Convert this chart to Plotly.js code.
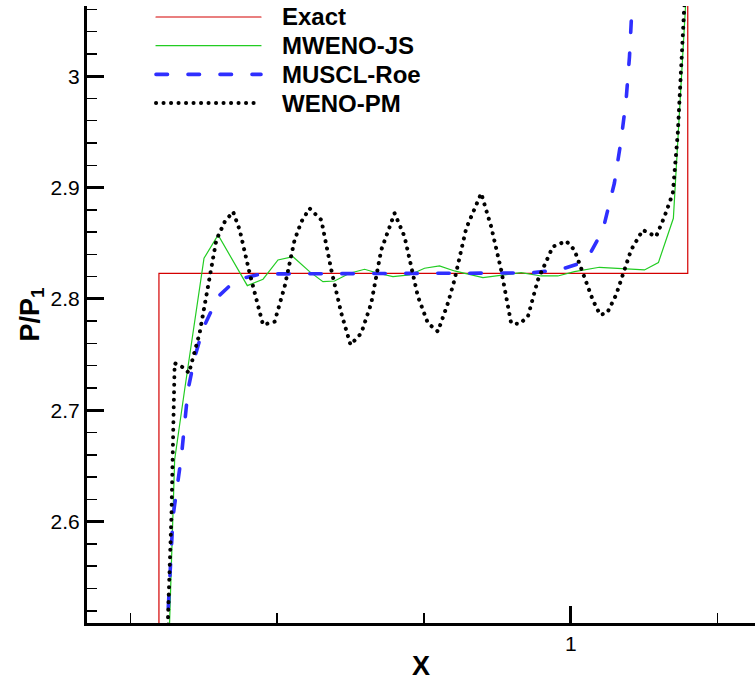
<!DOCTYPE html>
<html>
<head>
<meta charset="utf-8">
<script src="https://cdn.plot.ly/plotly-3.0.1.min.js"></script>
<style>
html,body{margin:0;padding:0;background:#fff;}
#chart{width:755px;height:681px;}
.scatterlayer path.js-line, .shapelayer path{stroke-linecap:round;}
</style>
</head>
<body>
<div id="chart"></div>
<script>
// ---- data ----
const seriesNames = ["Exact", "MWENO-JS", "MUSCL-Roe", "WENO-PM"];

const exactX = [0.65, 0.7195, 0.7195, 1.0797, 1.0797, 1.13];
const exactY = [2.30, 2.30, 2.823, 2.823, 3.60, 3.60];

const mwenoX = [0.7266, 0.7302, 0.7370, 0.7502, 0.7598, 0.7797, 0.7904, 0.8006, 0.8108, 0.8221, 0.8312, 0.8391, 0.8494, 0.8596, 0.8687, 0.8789, 0.8902, 0.9004, 0.9106, 0.9208, 0.9402, 0.9526, 0.9662, 0.9799, 0.9912, 1.0025, 1.0195, 1.0502, 1.0597, 1.0699, 1.0786, 1.0796];
const mwenoY = [2.503, 2.6556, 2.7184, 2.8365, 2.8574, 2.8119, 2.8177, 2.8350, 2.8379, 2.8245, 2.8155, 2.8161, 2.8230, 2.8266, 2.8230, 2.8200, 2.8215, 2.8275, 2.8296, 2.8251, 2.8191, 2.8215, 2.8236, 2.8206, 2.8206, 2.8245, 2.8284, 2.8260, 2.8326, 2.8724, 3.0622, 3.095];

const musclX = [0.7256, 0.7257, 0.7291, 0.7348, 0.7393, 0.7438, 0.7496, 0.7598, 0.7700, 0.7768, 0.7892, 0.8505, 0.9186, 0.9731, 0.9935, 1.0048, 1.0127, 1.0219, 1.0297, 1.0343, 1.0377, 1.0400, 1.0416, 1.0425];
const musclY = [2.494, 2.5184, 2.6048, 2.6586, 2.7184, 2.7471, 2.7737, 2.8021, 2.8146, 2.8186, 2.8224, 2.8229, 2.8229, 2.8233, 2.8266, 2.8314, 2.8395, 2.8619, 2.9038, 2.9426, 2.9785, 3.0173, 3.0592, 3.095];

const wenoX = [0.7256, 0.7257, 0.7280, 0.7295, 0.7302, 0.7370, 0.7399, 0.7472, 0.7530, 0.7586, 0.7643, 0.7700, 0.7745, 0.7813, 0.7904, 0.7983, 0.8051, 0.8119, 0.8165, 0.8221, 0.8301, 0.8369, 0.8437, 0.8500, 0.8573, 0.8641, 0.8709, 0.8800, 0.8868, 0.8959, 0.9027, 0.9095, 0.9163, 0.9208, 0.9288, 0.9390, 0.9458, 0.9526, 0.9594, 0.9651, 0.9708, 0.9776, 0.9878, 0.9969, 1.0025, 1.0082, 1.0150, 1.0200, 1.0248, 1.0309, 1.0355, 1.0411, 1.0491, 1.0581, 1.0638, 1.0695, 1.0729, 1.0752, 1.0774, 1.0786];
const wenoY = [2.494, 2.515, 2.6048, 2.6944, 2.7423, 2.7378, 2.7334, 2.7692, 2.8141, 2.8529, 2.8693, 2.8783, 2.8619, 2.8230, 2.7767, 2.7796, 2.8110, 2.8529, 2.8693, 2.8813, 2.8709, 2.8260, 2.7872, 2.7587, 2.7692, 2.7961, 2.8439, 2.8769, 2.8559, 2.8021, 2.7782, 2.7707, 2.7961, 2.8170, 2.8634, 2.8948, 2.8648, 2.8260, 2.7782, 2.7776, 2.7841, 2.8170, 2.8469, 2.8520, 2.8439, 2.8230, 2.7991, 2.7857, 2.7874, 2.8036, 2.8230, 2.8439, 2.8619, 2.8559, 2.8738, 2.8948, 2.9486, 3.0083, 3.0592, 3.095];

const xTickVals = [1];
const xTickText = ["1"];
const yTickVals = [2.6, 2.7, 2.8, 2.9, 3.0];
const yTickText = ["2.6", "2.7", "2.8", "2.9", "3"];

// ---- styles ----
const styles = [
  {color: "#d40000", width: 1.2, dash: "solid"},
  {color: "#22cc22", width: 1.2, dash: "solid"},
  {color: "#2f2fff", width: 3.6, dash: "11.5px,20.5px"},
  {color: "#000000", width: 4, dash: "0.1px,7.4px"}
];
const xs = [exactX, mwenoX, musclX, wenoX];
const ys = [exactY, mwenoY, musclY, wenoY];

const traces = xs.map((x, i) => ({
  type: "scatter", mode: "lines", name: seriesNames[i],
  x: x, y: ys[i], line: styles[i], showlegend: false, hoverinfo: "skip"
}));

// manual legend (long sample lines as in the reference)
const legTop = 17, legStep = 28.7;
const shapes = [], annotations = [];
seriesNames.forEach((n, i) => {
  const yy = 1 - (legTop + i * legStep - 6) / 617;
  shapes.push({type: "line", xref: "paper", yref: "paper",
    x0: (156 - 87) / 668, x1: (261 - 87) / 668, y0: yy, y1: yy,
    line: styles[i]});
  annotations.push({xref: "paper", yref: "paper", x: (280 - 87) / 668, y: yy,
    xanchor: "left", yanchor: "middle", showarrow: false, text: n,
    font: {family: "Liberation Sans, Arial, sans-serif", size: 24, color: "#000", weight: "bold"}});
});

const layout = {
  width: 755, height: 681,
  margin: {l: 87, r: 0, t: 6, b: 58, pad: 0},
  paper_bgcolor: "#fff", plot_bgcolor: "#fff",
  font: {family: "Liberation Sans, Arial, sans-serif", color: "#000"},
  showlegend: false,
  xaxis: {
    range: [0.6705, 1.1255], showgrid: false, zeroline: false,
    showline: true, linecolor: "#000", linewidth: 3,
    tickmode: "array", tickvals: xTickVals, ticktext: xTickText,
    ticks: "inside", ticklen: 17, tickwidth: 3, tickcolor: "#000",
    tickfont: {size: 21},
    minor: {ticks: "inside", tickmode: "linear", tick0: 0, dtick: 0.1, ticklen: 10, tickwidth: 1.5, tickcolor: "#000"},
    title: {text: "X", font: {size: 27, weight: "bold"}, standoff: 4}
  },
  yaxis: {
    range: [2.509, 3.063], showgrid: false, zeroline: false,
    showline: true, linecolor: "#000", linewidth: 3,
    tickmode: "array", tickvals: yTickVals, ticktext: yTickText,
    ticks: "inside", ticklen: 17, tickwidth: 3, tickcolor: "#000",
    tickfont: {size: 21},
    minor: {ticks: "inside", tickmode: "linear", tick0: 0, dtick: 0.02, ticklen: 10, tickwidth: 1.5, tickcolor: "#000"},
    title: {text: "P/P<sub>1</sub>", font: {size: 27, weight: "bold"}, standoff: 4}
  },
  shapes: shapes, annotations: annotations
};

Plotly.newPlot("chart", traces, layout, {staticPlot: true, displayModeBar: false});
</script>
</body>
</html>
